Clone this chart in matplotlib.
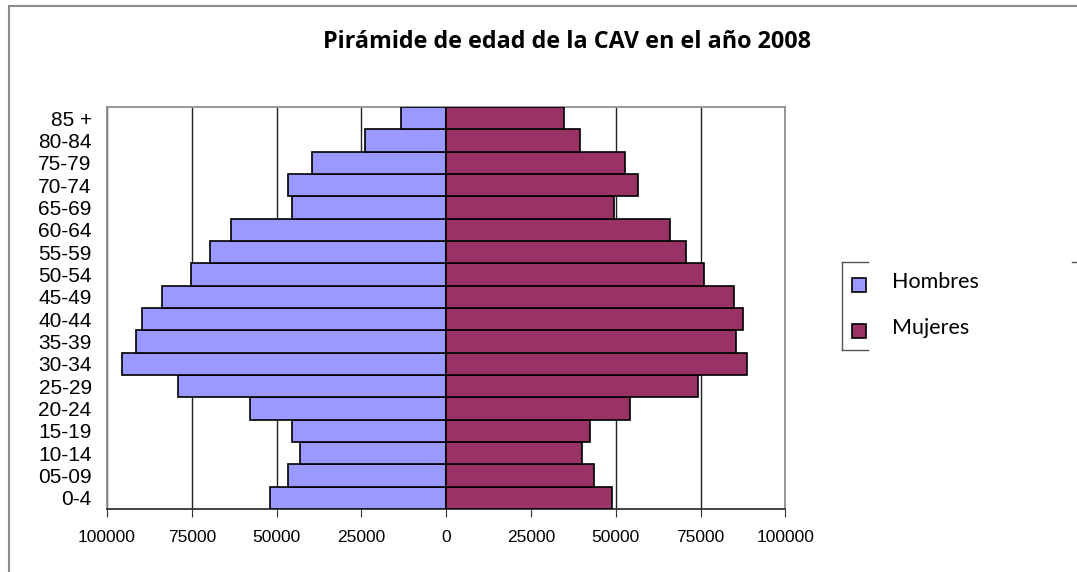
import numpy as np
import matplotlib.pyplot as plt
from matplotlib.lines import Line2D
from matplotlib.patches import Rectangle

grupos = ['0-4', '05-09', '10-14', '15-19', '20-24', '25-29', '30-34', '35-39',
          '40-44', '45-49', '50-54', '55-59', '60-64', '65-69', '70-74', '75-79',
          '80-84', '85 +']
hombres = [51800, 46700, 43000, 45400, 57900, 79100, 95700, 91500,
           89700, 83800, 75100, 69700, 63300, 45500, 46700, 39600, 23800, 13400]
mujeres = [49000, 43500, 40000, 42400, 54200, 74300, 88600, 85400,
           87400, 85000, 76100, 70800, 66000, 49400, 56600, 52600, 39600, 34800]
ticks_x = [-100000, -75000, -50000, -25000, 0, 25000, 50000, 75000, 100000]

col_h = '#9999FF'
col_m = '#993366'

W, H = 1077, 572
fig = plt.figure(figsize=(W / 100, H / 100), dpi=100)
ax = fig.add_axes([107 / W, 1 - 509 / H, (785.3 - 107) / W, (509 - 107) / H])

y = np.arange(len(grupos))
ax.barh(y, -np.array(hombres), height=1.0, color=col_h, edgecolor='black', linewidth=1.2, zorder=3)
ax.barh(y, mujeres, height=1.0, color=col_m, edgecolor='black', linewidth=1.2, zorder=3)

ax.set_xlim(-100000, 100000)
ax.set_ylim(-0.5, len(grupos) - 0.5)
ax.set_xticks(ticks_x)
ax.set_xticklabels([str(abs(t)) for t in ticks_x], fontsize=12.5, family='Liberation Sans')
ax.set_yticks(y)
ax.set_yticklabels(grupos, fontsize=15, family='Liberation Sans')
ax.tick_params(axis='y', length=0, pad=11)
ax.tick_params(axis='x', length=6, direction='out', pad=9, color='#333333')
ax.grid(axis='x', color='#222222', linewidth=1, zorder=0)
for s in ['top', 'left', 'right']:
    ax.spines[s].set_color('#909090')
    ax.spines[s].set_linewidth(1.3)
ax.spines['bottom'].set_color('#333333')
ax.spines['bottom'].set_linewidth(1.3)

fig.text(567 / W, 1 - 42 / H, 'Pirámide de edad de la CAV en el año 2008',
         ha='center', va='center', fontsize=16.8, fontweight='bold', family='Open Sans')

# marco exterior del gráfico
fig.add_artist(Line2D([8.5 / W, 8.5 / W], [0, 1 - 6 / H], transform=fig.transFigure, color='#8c8c8c', linewidth=1.5))
fig.add_artist(Line2D([8.5 / W, 1], [1 - 6 / H, 1 - 6 / H], transform=fig.transFigure, color='#8c8c8c', linewidth=1.5))

# leyenda
marco = [([842, 842], [262, 350]), ([842, 868], [262, 262]), ([842, 868], [350, 350]), ([1072, 1077], [262, 262])]
for xs, ys in marco:
    fig.add_artist(Line2D([v / W for v in xs], [1 - v / H for v in ys], transform=fig.transFigure,
                          color='#555555', linewidth=1))
for nombre, col, yc in [('Hombres', col_h, 285), ('Mujeres', col_m, 331)]:
    fig.add_artist(Rectangle(((859 - 7) / W, 1 - (yc + 7) / H), 14 / W, 14 / H,
                             transform=fig.transFigure, facecolor=col, edgecolor='black', linewidth=1.2))
    fig.text(892 / W, 1 - (yc - 3) / H, nombre, ha='left', va='center', fontsize=15.5, family='Lato')

fig.savefig('out.png', dpi=100)
